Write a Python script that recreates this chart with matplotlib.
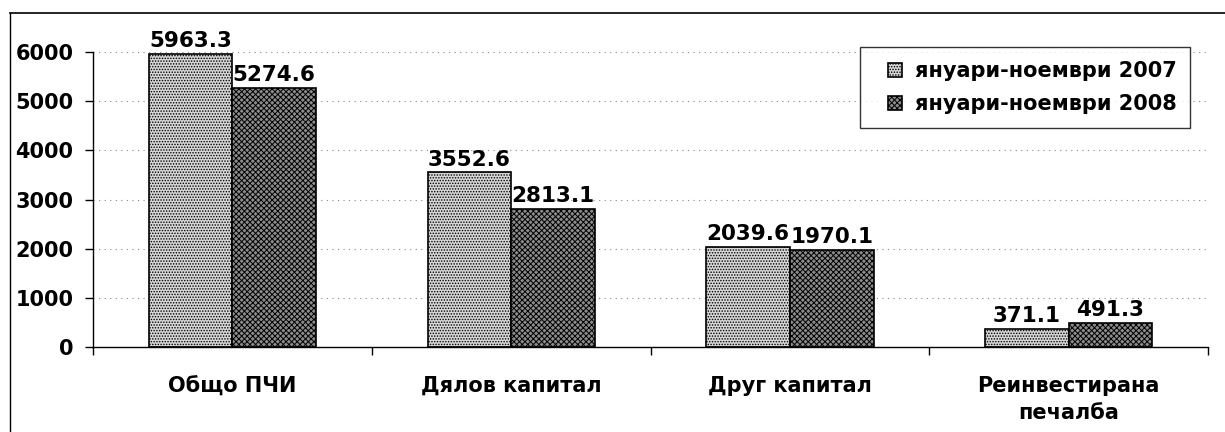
import matplotlib
matplotlib.use("Agg")
import matplotlib.pyplot as plt
import numpy as np
from matplotlib.lines import Line2D
from matplotlib.patches import Rectangle
from matplotlib.container import BarContainer
from matplotlib.legend_handler import HandlerPatch, update_from_first_child

categories = ["Общо ПЧИ", "Дялов капитал", "Друг капитал", "Реинвестирана\nпечалба"]
series_names = ["януари-ноември 2007", "януари-ноември 2008"]
values_2007 = [5963.3, 3552.6, 2039.6, 371.1]
values_2008 = [5274.6, 2813.1, 1970.1, 491.3]
y_ticks = [0, 1000, 2000, 3000, 4000, 5000, 6000]

plt.rcParams["font.family"] = ["DejaVu Sans"]
plt.rcParams["font.weight"] = "bold"
plt.rcParams["hatch.linewidth"] = 0.7

fig = plt.figure(figsize=(12.25, 4.32), dpi=100)
ax = fig.add_axes([93 / 1225, 1 - 347 / 432, (1208 - 93) / 1225, (347 - 52) / 432])

x = np.arange(len(categories))
w = 0.3
b1 = ax.bar(x - w / 2, values_2007, w, facecolor="#d6d6d6", edgecolor="black",
            hatch="......", linewidth=1.2, label=series_names[0])
b2 = ax.bar(x + w / 2, values_2008, w, facecolor="#8c8c8c", edgecolor="black",
            hatch="xxxxxx", linewidth=1.2, label=series_names[1])

for bars, vals in ((b1, values_2007), (b2, values_2008)):
    for r, v in zip(bars, vals):
        ax.annotate(f"{v:.1f}", (r.get_x() + r.get_width() / 2, v),
                    xytext=(0, 2), textcoords="offset points",
                    ha="center", va="bottom", fontsize=15.5, fontweight="bold")

ax.set_xlim(-0.5, len(categories) - 0.5)
ax.set_ylim(0, 6000)
ax.set_yticks(y_ticks)
ax.set_yticklabels([str(t) for t in y_ticks], fontsize=15, fontweight="bold")
ax.yaxis.grid(True, linestyle=(0, (1, 4)), color="#888888", linewidth=0.8)
ax.set_axisbelow(True)

ax.set_xticks(x)
ax.set_xticklabels(categories, fontsize=15, fontweight="bold", linespacing=1.45)
ax.set_xticks(np.arange(-0.5, len(categories)), minor=True)
ax.tick_params(axis="x", which="major", length=0, pad=21)
ax.tick_params(axis="x", which="minor", length=6, width=1, direction="out")
ax.tick_params(axis="y", length=6, width=1, direction="out", pad=8)

for s in ("top", "right"):
    ax.spines[s].set_visible(False)
ax.spines["left"].set_linewidth(1.0)
ax.spines["bottom"].set_linewidth(1.0)


def small_square(legend, orig_handle, xdescent, ydescent, width, height, fontsize):
    s = 10
    return Rectangle((-xdescent + width - s, -ydescent + (height - s) / 2), s, s)


leg = ax.legend(loc="upper left", bbox_to_anchor=((860 - 93) / 1115, 1 + 5 / 295),
                fontsize=15, frameon=True, fancybox=False, handlelength=1.35,
                handleheight=0.6, handletextpad=0.6, borderpad=0.67,
                labelspacing=0.63, borderaxespad=0,
                handler_map={BarContainer: HandlerPatch(patch_func=small_square,
                                                        update_func=update_from_first_child)})
leg.get_frame().set_edgecolor("black")
leg.get_frame().set_linewidth(1.0)

# outer chart frame (cut off at right and bottom in the scan)
fig.add_artist(Line2D([10 / 1225, 1.0], [1 - 13 / 432, 1 - 13 / 432],
                      transform=fig.transFigure, color="black", linewidth=1.2))
fig.add_artist(Line2D([10 / 1225, 10 / 1225], [0, 1 - 13 / 432],
                      transform=fig.transFigure, color="black", linewidth=1.0))

fig.savefig("out.png", dpi=100)
